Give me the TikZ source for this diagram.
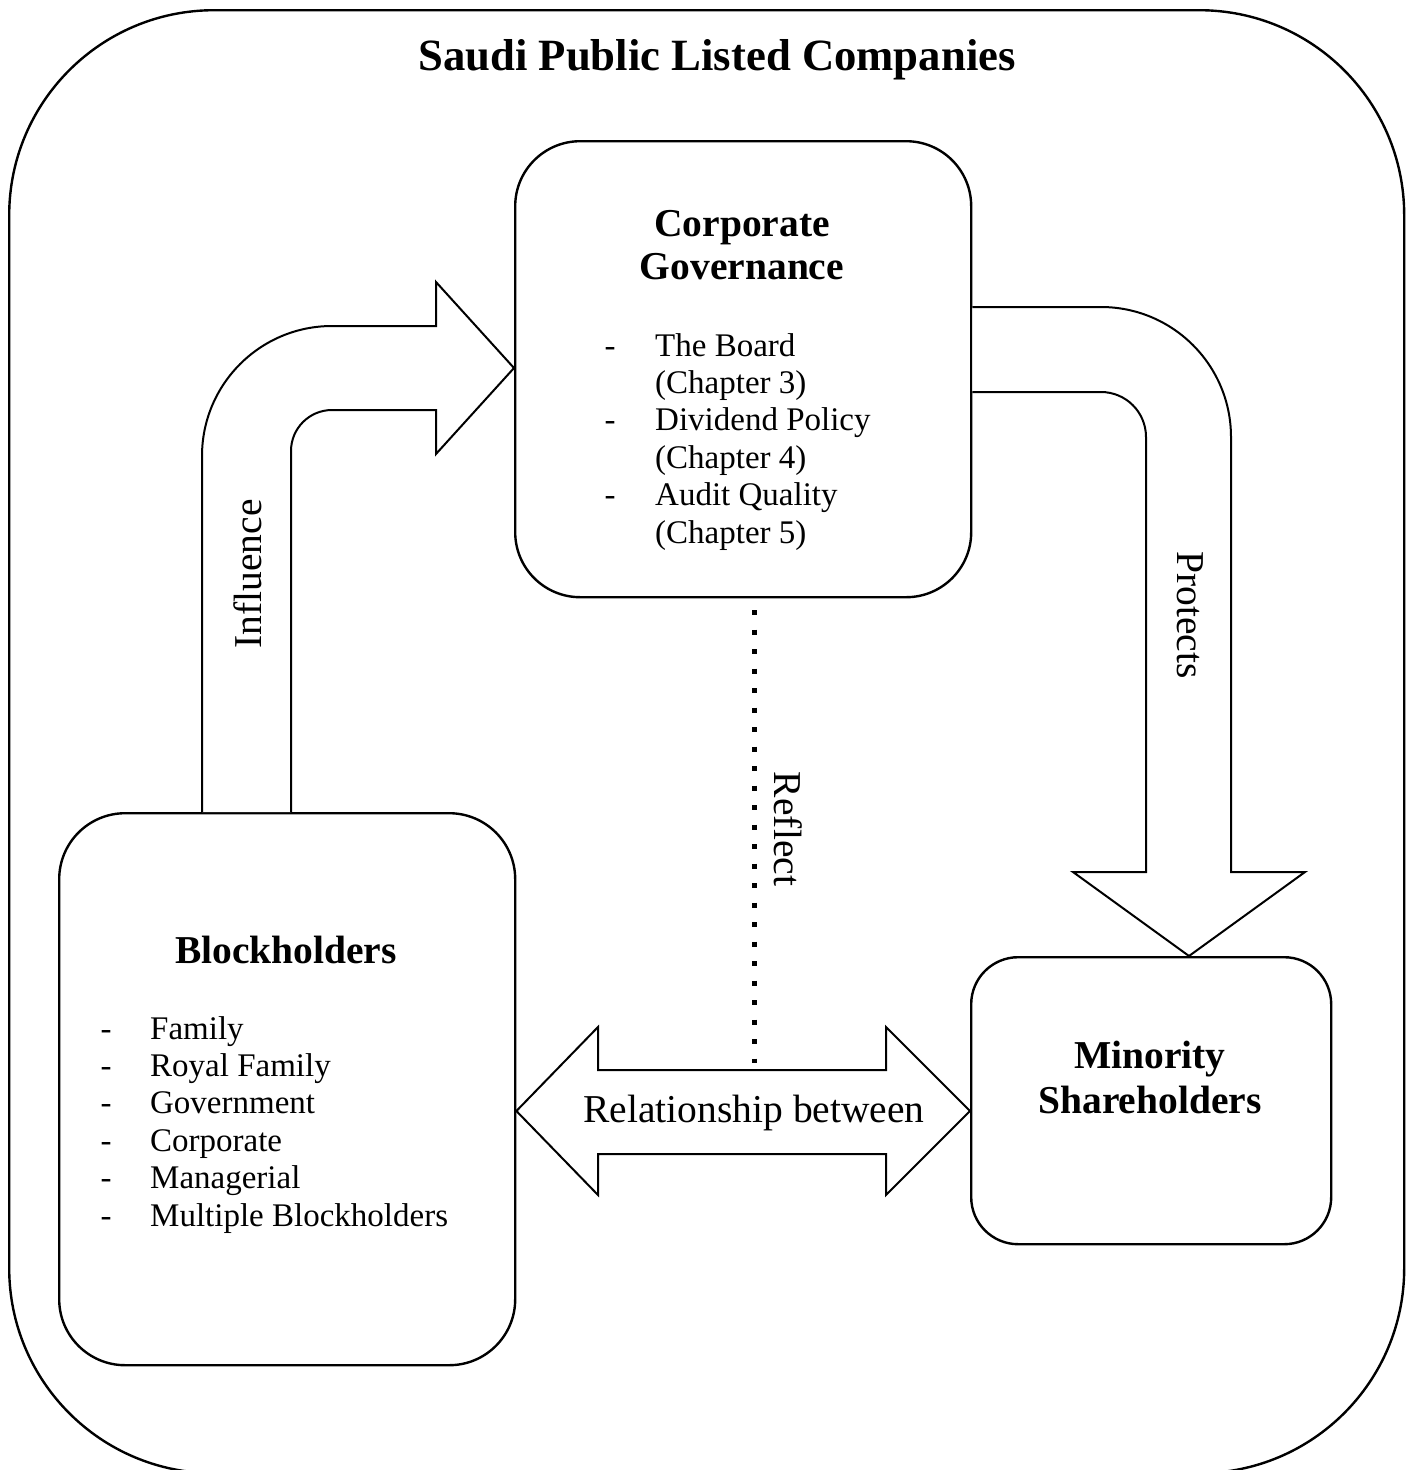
\documentclass[tikz,border=0pt]{standalone}
\usepackage{fontspec}
\setmainfont{Liberation Serif}
\begin{document}
\begin{tikzpicture}[x=1pt,y=-1pt,
  box/.style={draw=black, line width=2.4pt, fill=white, inner sep=0pt, anchor=north west},
  blockarrow/.style={draw=black, line width=2pt, fill=white, line join=miter},
  title/.style={inner sep=0pt, anchor=base, font=\bfseries\fontsize{44.7}{50}\selectfont},
  head/.style={inner sep=0pt, anchor=base, font=\bfseries\fontsize{39.5}{44}\selectfont},
  lbl/.style={inner sep=0pt, font=\fontsize{39.5}{44}\selectfont},
  lst/.style={inner sep=0pt, anchor=base west, font=\fontsize{33}{37.4}\selectfont},
  dots/.style={line width=5pt, dash pattern=on 5pt off 14.5pt}]
\useasboundingbox (0,0) rectangle (1412,1470);
% outer frame
\node[box, rounded corners=205pt, minimum width=1395pt, minimum height=1463pt] (frame) at (8,9) {};
\node[title] (ttl) at (717,70) {Saudi Public Listed Companies};
% boxes
\node[box, rounded corners=65pt, minimum width=456pt, minimum height=456pt] (cg) at (514,140) {};
\node[box, rounded corners=66pt, minimum width=456pt, minimum height=552pt] (bh) at (58,812) {};
\node[box, rounded corners=47pt, minimum width=360pt, minimum height=287pt] (ms) at (970,956) {};
% influence arrow
\draw[blockarrow] (bh.north -| 202,0) -- (202,456) arc[start angle=180, end angle=270, radius=130]
  -- (436,326) -- (436,282) -- (cg.west |- 0,368) -- (436,454) -- (436,410) -- (332,410)
  arc[start angle=270, end angle=180, radius=41] -- (bh.north -| 291,0);
% protects arrow
\draw[blockarrow] (cg.east |- 0,307) -- (1101,307) arc[start angle=270, end angle=360, radius=130]
  -- (1231,872) -- (1305,872) -- (ms.north -| 1189,0) -- (1073,872) -- (1146,872) -- (1146,437)
  arc[start angle=0, end angle=-90, radius=45] -- (cg.east |- 0,392);
% relationship double arrow
\draw[blockarrow] (bh.east |- 0,1111) -- (598,1027) -- (598,1070) -- (886,1070) -- (886,1027)
  -- (ms.west |- 0,1111) -- (886,1195) -- (886,1154) -- (598,1154) -- (598,1195) -- cycle;
% reflect dotted line
\coordinate (r1) at (754,610);
\coordinate (r2) at (754,1063);
\draw[dots] (r1) -- (r2);
% headings
\node[head] (cg1) at (742,236) {Corporate};
\node[head] (cg2) at (742,279) {Governance};
\node[head] (bh1) at (286,963) {Blockholders};
\node[head] (ms1) at (1150,1068) {Minority};
\node[head] (ms2) at (1150,1113) {Shareholders};
% lists
\node[lst] (cgl) at (604.5,356) {\begin{tabular}[t]{@{}p{50.5pt}@{}l@{}}-&The Board\\&(Chapter 3)\\-&Dividend Policy\\&(Chapter 4)\\-&Audit Quality\\&(Chapter 5)\end{tabular}};
\node[lst] (bhl) at (100.5,1039) {\begin{tabular}[t]{@{}p{49.5pt}@{}l@{}}-&Family\\-&Royal Family\\-&Government\\-&Corporate\\-&Managerial\\-&Multiple Blockholders\end{tabular}};
% arrow labels
\node[lbl, rotate=90] (infl) at (248,574) {Influence};
\node[lbl, rotate=-90] (prot) at (1190,615) {Protects};
\node[lbl, rotate=-90] (refl) at (788,829) {Reflect};
\node[lbl, anchor=base] (rel) at (754,1122) {Relationship between};
\end{tikzpicture}
\end{document}
